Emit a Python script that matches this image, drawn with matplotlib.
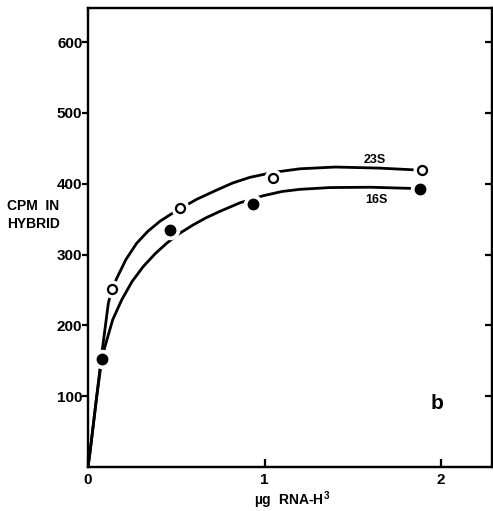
import matplotlib
matplotlib.use("Agg")
import matplotlib.pyplot as plt

plt.rcParams['font.family'] = ['Liberation Sans', 'DejaVu Sans']
plt.rcParams['font.weight'] = 'bold'
plt.rcParams['mathtext.fontset'] = 'custom'
plt.rcParams['mathtext.bf'] = 'Liberation Sans:bold'
plt.rcParams['mathtext.rm'] = 'Liberation Sans:bold'

# measured points
x_23s = [0.134, 0.52, 1.046, 1.89]
y_23s = [251, 365, 408, 420]
x_16s = [0.081, 0.465, 0.937, 1.88]
y_16s = [152, 334, 372, 393]

# hand-drawn fitted curves
cx_23s = [0, 0.011, 0.049, 0.078, 0.1, 0.115, 0.134, 0.162, 0.215, 0.276, 0.34, 0.408,
          0.483, 0.517, 0.616, 0.729, 0.82, 0.918, 1.05, 1.2, 1.4, 1.65, 1.89]
cy_23s = [0, 20, 99, 160, 202, 231, 250, 266, 293, 316, 333, 347,
          359, 364, 378, 391, 401, 409, 416, 421, 423.5, 422, 419]
cx_16s = [0, 0.011, 0.049, 0.078, 0.096, 0.14, 0.191, 0.25, 0.313, 0.38, 0.446,
          0.52, 0.597, 0.67, 0.748, 0.861, 0.993, 1.1, 1.2, 1.37, 1.6, 1.88]
cy_16s = [0, 20, 99, 152, 170, 208, 236, 262, 283, 301, 316,
          330, 342, 352, 361, 373, 383, 389, 392, 394.5, 395, 393]

xticks = [0, 1, 2]
yticks = [100, 200, 300, 400, 500, 600]

fig = plt.figure(figsize=(4.93, 5.11), dpi=100)
ax = fig.add_axes([0.1785, 0.0861, 0.8185, 0.8982])
ax.set_xlim(0, 2.286)
ax.set_ylim(0, 648)

lw = 2.0
ax.plot(cx_23s, cy_23s, color='black', lw=lw, zorder=2, solid_capstyle='butt',
        solid_joinstyle='round')
ax.plot(cx_16s, cy_16s, color='black', lw=lw, zorder=2, solid_capstyle='butt',
        solid_joinstyle='round')

# white halos to break the curves around points
ax.plot(x_23s, y_23s, 'o', ms=12, color='white', mec='white', zorder=3)
ax.plot(x_16s, y_16s, 'o', ms=13, color='white', mec='white', zorder=3)
ax.plot(x_23s, y_23s, 'o', ms=6.5, mfc='white', mec='black', mew=1.6, zorder=4)
ax.plot(x_16s, y_16s, 'o', ms=7.5, mfc='black', mec='black', zorder=4)

for s in ax.spines.values():
    s.set_linewidth(1.6)

ax.set_xticks(xticks)
ax.set_xticklabels([str(v) for v in xticks])
ax.set_yticks(yticks)
ax.set_yticklabels([str(v) for v in yticks])
ax.tick_params(axis='x', direction='in', length=6, width=1.6, pad=4, labelsize=11)
ax.tick_params(axis='y', direction='out', length=4, width=1.6, pad=0, labelsize=11,
               right=False)

# right spine: inward ticks, no labels
ax2 = ax.twinx()
ax2.set_ylim(ax.get_ylim())
ax2.set_yticks(yticks)
ax2.tick_params(axis='y', direction='in', length=5, width=1.6, labelright=False)
for s in ax2.spines.values():
    s.set_linewidth(1.6)

for lab in ax.get_xticklabels() + ax.get_yticklabels():
    lab.set_fontweight('bold')

fig.text(7 / 493, 1 - 215 / 511, "CPM  IN\nHYBRID", ha='left', va='center',
         fontsize=10, fontweight='bold', linespacing=1.3)
fig.text(292 / 493, 1 - 500 / 511, r"µg  RNA-H$^{\mathbf{3}}$", ha='center', va='center',
         fontsize=10, fontweight='bold')

ax.text(1.626, 433, "23S", ha='center', va='center', fontsize=9, fontweight='bold')
ax.text(1.632, 377, "16S", ha='center', va='center', fontsize=9, fontweight='bold')
ax.text(1.976, 90, "b", ha='center', va='center', fontsize=15, fontweight='bold')

fig.savefig("out.png", dpi=100)
